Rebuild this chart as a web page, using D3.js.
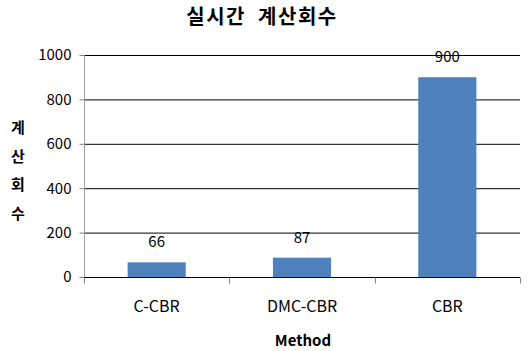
<!DOCTYPE html>
<html><head><meta charset="utf-8">
<script src="https://cdn.jsdelivr.net/npm/d3@7"></script>
<style>body{margin:0;background:#fff}svg{display:block}text{font-family:"Noto Sans CJK KR","Noto Sans",sans-serif}</style>
</head><body><div id="c"></div>
<script>
const categories = ["C-CBR", "DMC-CBR", "CBR"];
const values = [66, 87, 900];
const yTicks = [0, 200, 400, 600, 800, 1000];
const title = "실시간 계산회수";
const yTitle = ["계", "산", "회", "수"];
const xTitle = "Method";

const W = 528, H = 351;
const m = {l: 84, r: 8, t: 55, b: 74};
const svg = d3.select("#c").append("svg").attr("width", W).attr("height", H);
const x = d3.scaleBand().domain(categories).range([m.l, W - m.r]).paddingInner(0.6).paddingOuter(0.3);
const band = d3.scaleBand().domain(categories).range([m.l, W - m.r]);
const y = d3.scaleLinear().domain([0, 1000]).range([H - m.b, m.t]);

// gridlines
svg.append("g").selectAll("line").data(yTicks.filter(d => d > 0)).join("line")
  .attr("x1", m.l).attr("x2", W - m.r).attr("y1", d => y(d) + 0.5).attr("y2", d => y(d) + 0.5)
  .attr("stroke", "#000").attr("stroke-width", 1);

// y axis
const ya = svg.append("g").attr("transform", `translate(${m.l + 0.5},0)`)
  .call(d3.axisLeft(y).tickValues(yTicks).tickFormat(d3.format("d")).tickSize(5).tickPadding(8));
ya.select(".domain").attr("stroke", "#a0a0a0").attr("d", `M0,${y(0)}V${y(1000)}`);
ya.selectAll(".tick line").attr("stroke", "#808080");
ya.selectAll(".tick text").attr("font-size", 15).attr("fill", "#000");

// bars
svg.append("g").selectAll("rect").data(values).join("rect")
  .attr("x", (d, i) => x(categories[i])).attr("width", x.bandwidth())
  .attr("y", d => y(d)).attr("height", d => y(0) - y(d))
  .attr("fill", "#4f81bd");

// labels
svg.append("g").selectAll("text").data(values).join("text")
  .attr("x", (d, i) => x(categories[i]) + x.bandwidth() / 2)
  .attr("y", d => y(d) - 15)
  .attr("text-anchor", "middle").attr("font-size", 15)
  .text(d => d);

// x axis
const xa = svg.append("g").attr("transform", `translate(0,${y(0) + 0.5})`);
xa.append("line").attr("x1", m.l).attr("x2", W - m.r).attr("stroke", "#000");
const bounds = categories.map(c => band(c)).concat([W - m.r]);
xa.selectAll(".tk").data(bounds).join("line").attr("class", "tk")
  .attr("x1", d => Math.round(d) + 0.5).attr("x2", d => Math.round(d) + 0.5).attr("y1", 0).attr("y2", 6)
  .attr("stroke", "#808080");
xa.selectAll(".cl").data(categories).join("text").attr("class", "cl")
  .attr("x", d => band(d) + band.bandwidth() / 2).attr("y", 34)
  .attr("text-anchor", "middle").attr("font-size", 16)
  .text(d => d);

// titles
svg.append("text").attr("x", 262).attr("y", 24).attr("text-anchor", "middle")
  .attr("font-size", 20).attr("font-weight", "bold").attr("letter-spacing", 1.5)
  .attr("xml:space", "preserve").style("white-space", "pre").text("실시간  계산회수");
svg.append("text").attr("x", 303).attr("y", 346).attr("text-anchor", "middle")
  .attr("font-size", 15).attr("font-weight", "bold").text(xTitle);
svg.append("g").selectAll("text").data(yTitle).join("text")
  .attr("x", 18).attr("y", (d, i) => 133 + i * 28.5).attr("text-anchor", "middle")
  .attr("font-size", 15).attr("font-weight", "bold").text(d => d);
</script></body></html>
